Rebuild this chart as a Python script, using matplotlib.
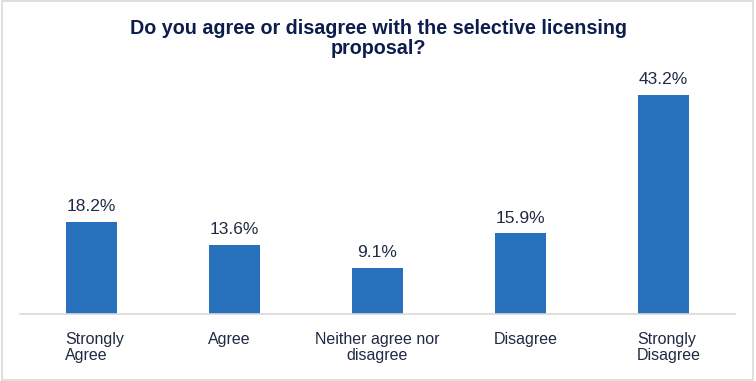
import matplotlib.pyplot as plt
from matplotlib.patches import Rectangle

plt.rcParams['font.family'] = ['Liberation Sans', 'DejaVu Sans']

categories = ['Strongly\nAgree', 'Agree', 'Neither agree nor\ndisagree', 'Disagree', 'Strongly\nDisagree']
values = [18.2, 13.6, 9.1, 15.9, 43.2]
label_align = ['left', 'left', 'center', 'left', 'left']

bar_color = '#2771BC'
text_color = '#1F2A44'
title_color = '#0D1E4E'

W, H = 756, 381
fig = plt.figure(figsize=(W / 100, H / 100), dpi=100)
ax = fig.add_axes([20 / W, 1 - 314 / H, 715 / W, (314 - 60) / H])

x = list(range(len(values)))
bar_w = 0.357
ax.bar(x, values, width=bar_w, color=bar_color, zorder=2)
ax.set_xlim(-0.5, len(values) - 0.5)
ax.set_ylim(0, 50)

for xi, v in zip(x, values):
    ax.text(xi, v + 1.5, f'{v:.1f}%', ha='center', va='bottom',
            fontsize=12.5, color=text_color)

for xi, lab, al in zip(x, categories, label_align):
    xpos = xi - bar_w / 2 - 0.008 if al == 'left' else xi
    ax.text(xpos, -3.6, lab, ha=al, va='top', multialignment=al,
            fontsize=11.5, color=text_color, linespacing=1.05)

for s in ['top', 'right', 'left']:
    ax.spines[s].set_visible(False)
ax.spines['bottom'].set_color('#D9D9D9')
ax.spines['bottom'].set_linewidth(1.2)
ax.set_xticks([])
ax.set_yticks([])

fig.text(0.5, 1 - 19 / H, 'Do you agree or disagree with the selective licensing\nproposal?',
         ha='center', va='top', fontsize=14.2, fontweight='bold', color=title_color,
         linespacing=1.05)

fig.patches.append(Rectangle((0.002, 0.003), 0.994, 0.994, transform=fig.transFigure,
                             fill=False, edgecolor='#D9D9D9', linewidth=1.2))

fig.savefig('out.png', dpi=100)
